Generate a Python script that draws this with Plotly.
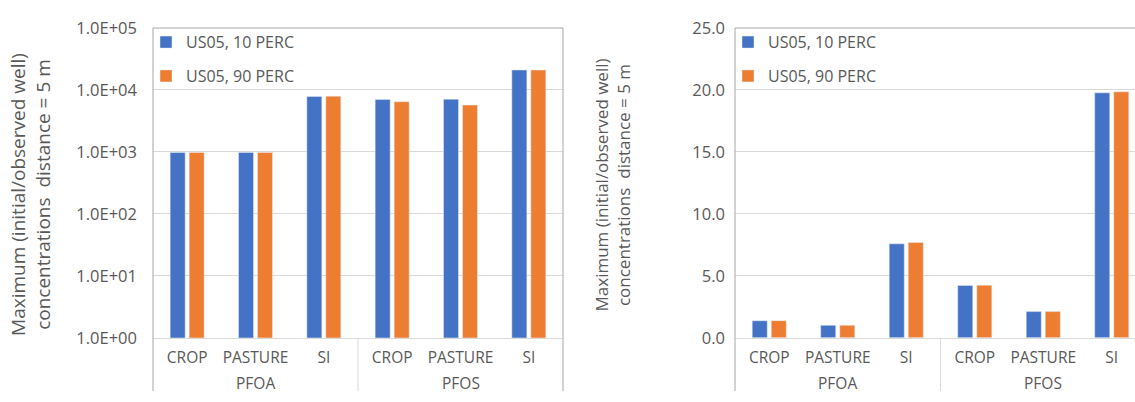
import plotly.graph_objects as go

# Categories: land use (inner level) grouped by compound (outer level)
land_uses = ["CROP", "PASTURE", "SI", "CROP", "PASTURE", "SI"]
compounds = ["PFOA", "PFOS"]
series_names = ["US05, 10 PERC", "US05, 90 PERC"]

# Left panel (log scale)
log_p10 = [980, 980, 7850, 7000, 7100, 21000]
log_p90 = [980, 980, 7950, 6450, 5700, 21000]

# Right panel (linear scale)
lin_p10 = [1.37, 1.0, 7.58, 4.22, 2.11, 19.77]
lin_p90 = [1.38, 1.0, 7.68, 4.24, 2.11, 19.85]

log_tick_vals = [1, 10, 100, 1000, 10000, 100000]
log_tick_text = ["1.0E+00", "1.0E+01", "1.0E+02", "1.0E+03", "1.0E+04", "1.0E+05"]
lin_tick_vals = [0, 5, 10, 15, 20, 25]
lin_tick_text = ["0.0", "5.0", "10.0", "15.0", "20.0", "25.0"]

y_title = "Maximum (initial/observed well)<br>concentrations  distance = 5 m"

W, H = 1135, 402
BLUE, ORANGE = "#4472C4", "#ED7D31"
TEXT = "#595959"
GRID = "#d9d9d9"
FRAME = "#a6a6a6"
FONT = "Open Sans"


def px(x):
    return x / W


def py(y):
    return (H - y) / H


xpos = list(range(len(land_uses)))

fig = go.Figure()
for name, vals, color in [(series_names[0], log_p10, BLUE), (series_names[1], log_p90, ORANGE)]:
    fig.add_trace(go.Bar(x=xpos, y=vals, name=name, marker_color=color,
                         xaxis="x", yaxis="y", legend="legend", legendgroup=name))
for name, vals, color in [(series_names[0], lin_p10, BLUE), (series_names[1], lin_p90, ORANGE)]:
    fig.add_trace(go.Bar(x=xpos, y=vals, name=name, marker_color=color,
                         xaxis="x2", yaxis="y2", legend="legend2", legendgroup=name))

y_dom = [py(345.5), py(17)]

xaxis_common = dict(
    tickvals=xpos, ticktext=land_uses, showgrid=False, zeroline=False,
    ticks="", ticklabelstandoff=6,
    tickfont=dict(family=FONT, size=15.5, color=TEXT),
    showline=True, linecolor=GRID, linewidth=1,
)

legend_common = dict(xanchor="left", yanchor="top", bgcolor="rgba(0,0,0,0)",
                     tracegroupgap=10, itemwidth=30,
                     font=dict(family=FONT, size=16, color=TEXT))

fig.update_layout(
    width=W, height=H,
    margin=dict(l=0, r=0, t=0, b=0),
    paper_bgcolor="white", plot_bgcolor="white",
    barmode="group", bargap=0.444, bargroupgap=0.21,
    font=dict(family=FONT, color=TEXT),
    xaxis=dict(domain=[px(153), px(563)], range=[-0.5, 5.5], anchor="y", **xaxis_common),
    xaxis2=dict(domain=[px(735), 1.0], range=[-0.5, -0.5 + 400 / 68.5], anchor="y2", **xaxis_common),
    yaxis=dict(domain=y_dom, type="log", range=[0, 5], anchor="x",
               tickvals=log_tick_vals, ticktext=log_tick_text,
               showgrid=True, gridcolor=GRID, gridwidth=1, zeroline=False,
               ticks="", ticklabelstandoff=15,
               tickfont=dict(family=FONT, size=16.5, color=TEXT)),
    yaxis2=dict(domain=y_dom, range=[0, 25], anchor="x2",
                tickvals=lin_tick_vals, ticktext=lin_tick_text,
                showgrid=True, gridcolor=GRID, gridwidth=1, zeroline=False,
                ticks="", ticklabelstandoff=9,
                tickfont=dict(family=FONT, size=16.5, color=TEXT)),
    legend=dict(x=px(146), y=py(14), **legend_common),
    legend2=dict(x=px(728), y=py(14), **legend_common),
    showlegend=True,
)

# Axis titles
fig.add_annotation(text=y_title, xref="paper", yref="paper", x=px(31), y=py(194),
                   textangle=-90, showarrow=False, xanchor="center", yanchor="middle",
                   font=dict(family=FONT, size=19, color=TEXT))
fig.add_annotation(text=y_title, xref="paper", yref="paper", x=px(612), y=py(184),
                   textangle=-90, showarrow=False, xanchor="center", yanchor="middle",
                   font=dict(family=FONT, size=17, color=TEXT))

# Outer-level group labels
for xr in ["x", "x2"]:
    for i, comp in enumerate(compounds):
        fig.add_annotation(text=comp, xref=xr, yref="paper", x=1 + 3 * i, y=py(394),
                           showarrow=False, yanchor="middle",
                           font=dict(family=FONT, size=15.5, color=TEXT))

# Frames and group dividers
line_frame = dict(color=FRAME, width=1)
line_div = dict(color=GRID, width=1)
shapes = [
    # left panel frame
    dict(type="line", xref="paper", yref="paper", x0=px(153), x1=px(563), y0=py(17), y1=py(17), line=line_frame),
    dict(type="line", xref="paper", yref="paper", x0=px(153), x1=px(153), y0=py(17), y1=0, line=line_frame),
    dict(type="line", xref="paper", yref="paper", x0=px(563), x1=px(563), y0=py(17), y1=0, line=line_frame),
    dict(type="line", xref="x", yref="paper", x0=2.5, x1=2.5, y0=py(345.5), y1=0, line=line_div),
    # right panel frame
    dict(type="line", xref="paper", yref="paper", x0=px(735), x1=1.0, y0=py(17), y1=py(17), line=line_frame),
    dict(type="line", xref="paper", yref="paper", x0=px(735), x1=px(735), y0=py(17), y1=0, line=line_frame),
    dict(type="line", xref="x2", yref="paper", x0=2.5, x1=2.5, y0=py(345.5), y1=0, line=line_div),
]
fig.update_layout(shapes=shapes)

fig.write_html("out.html")
